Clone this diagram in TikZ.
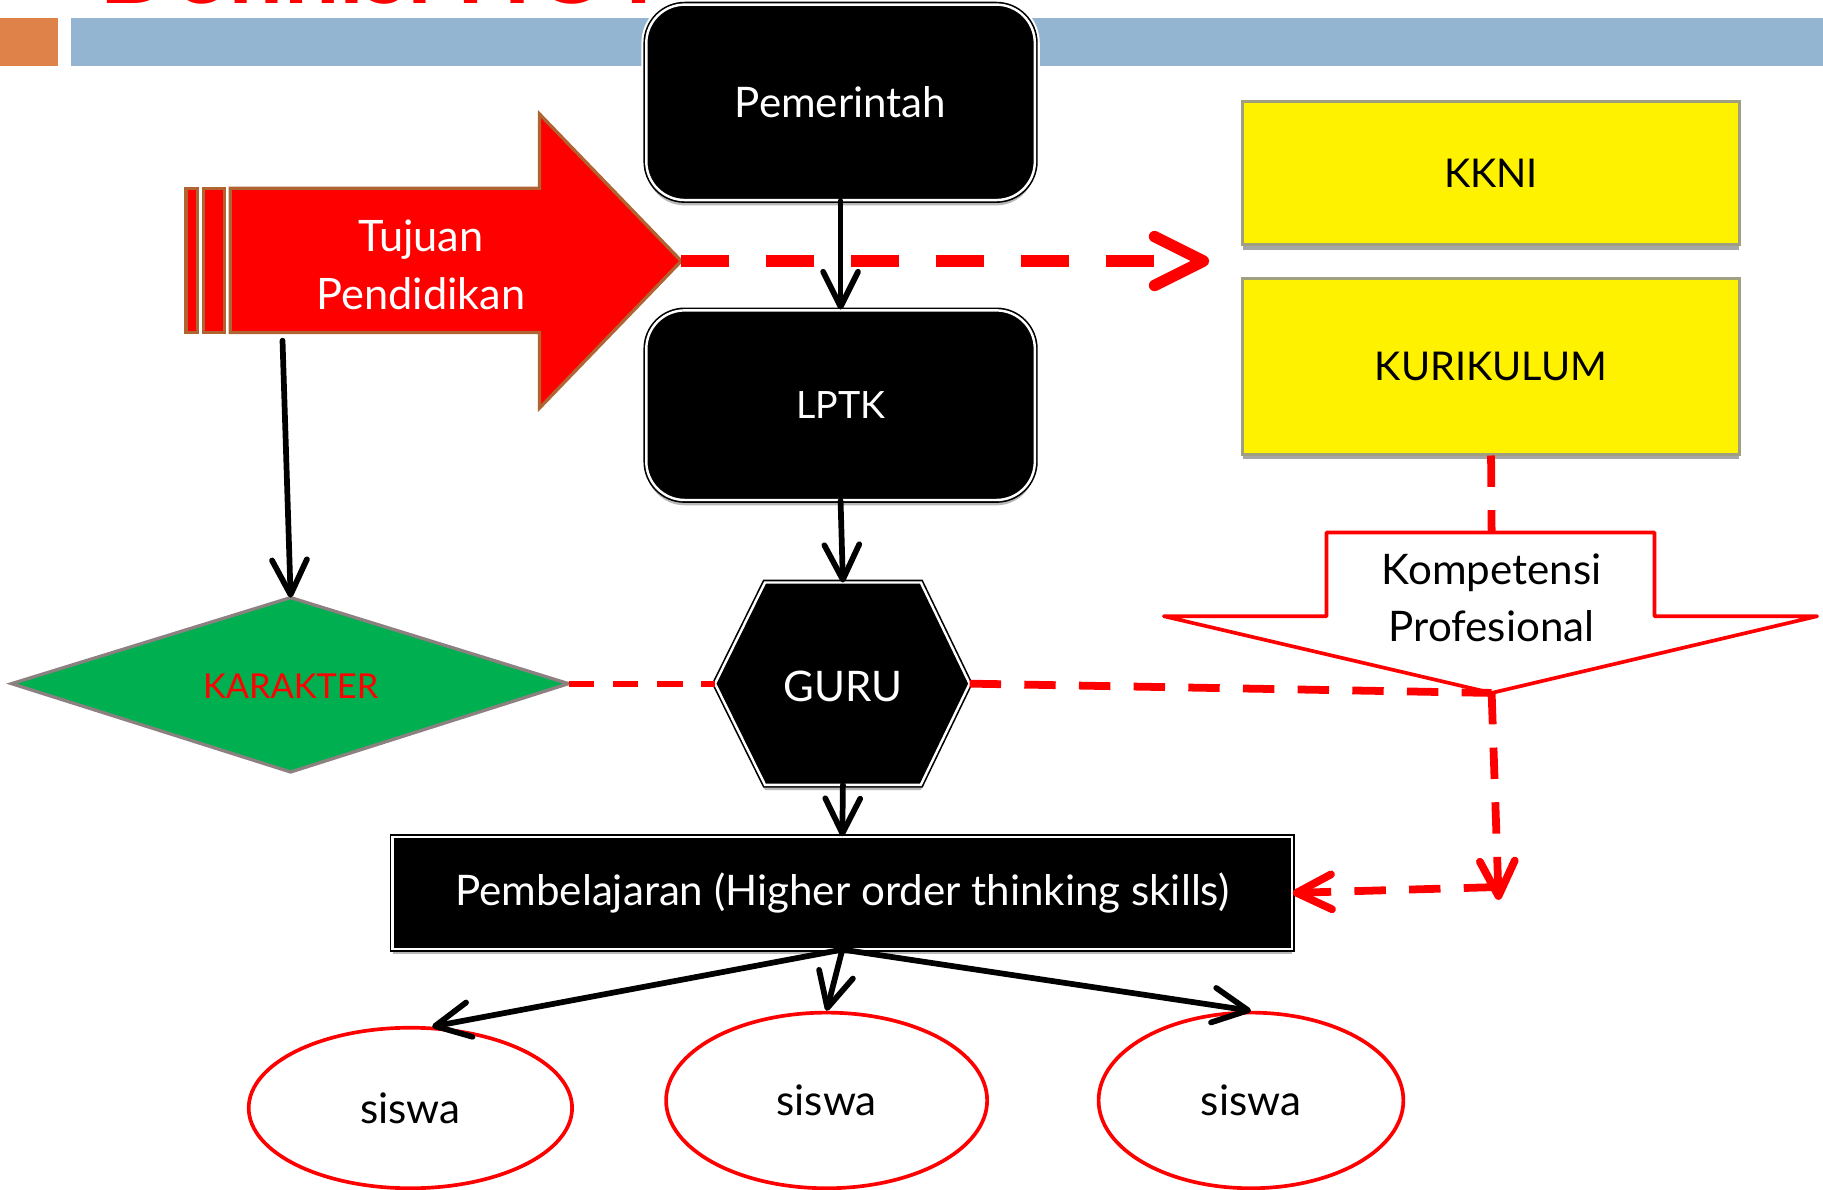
\documentclass[tikz,border=0pt]{standalone}
\usepackage{fontspec}
\setmainfont{Lato}
\usetikzlibrary{arrows.meta,shadows,shapes.geometric}

\definecolor{barblue}{RGB}{148,181,210}
\definecolor{barorange}{RGB}{223,130,73}
\definecolor{rim}{RGB}{176,100,50}
\definecolor{leafgreen}{RGB}{0,176,80}
\definecolor{stone}{RGB}{140,128,128}
\definecolor{boxedge}{RGB}{160,160,128}

\begin{document}
\begin{tikzpicture}[x=0.01cm,y=-0.01cm,
  txt/.style={font=\fontsize{10.3}{14}\selectfont, align=center, inner sep=0pt},
  capsA/.style={font=\fontsize{9.7}{14}\selectfont},
  darkbox/.style={fill=black, draw=black, double=white, double distance=0.6pt,
    line width=0.4pt, preaction={draw=white, line width=2.4pt},
    drop shadow={shadow xshift=0pt, shadow yshift=-1.3pt, fill=black, opacity=0.28}},
  yellowbox/.style={rectangle, fill=yellow, draw=boxedge, line width=0.7pt,
    drop shadow={shadow xshift=0pt, shadow yshift=-1.3pt, fill=black, opacity=0.35}},
  redshape/.style={fill=red, draw=rim, line width=0.8pt},
  pupil/.style={ellipse, draw=red, line width=0.9pt, fill=white, inner sep=0pt},
  flow/.style={draw=black, line width=1.4pt, line cap=round,
    -{Straight Barb[length=3mm, width=3mm, line cap=round, line join=round]}},
  bigdash/.style={draw=red, line width=2.8pt, dash pattern=on 0.41cm off 0.32cm},
  reddash/.style={draw=red, line width=1.9pt, dash pattern=on 0.27cm off 0.2cm},
  thindash/.style={draw=red, line width=1.4pt, dash pattern=on 0.22cm off 0.16cm},
  redtip/.style={-{Straight Barb[length=3mm, width=3mm, line cap=round, line join=round]}}
]
\useasboundingbox (0,0) rectangle (1568,1023);

% header bars
\fill[barorange] (0,15.5) rectangle (50,56.5);
\fill[barblue] (61,15.5) rectangle (1568,56.5);

% title, cut off at the top edge
\begin{scope}
  \clip (0,0) rectangle (1568,3.2);
  \node[anchor=base west, text=red, inner sep=0pt,
    font=\fontsize{24}{24}\selectfont\bfseries] (title) at (85,2.6) {Definisi HOTS};
\end{scope}

% black process boxes
\node[darkbox, rounded corners=0.33cm, minimum width=3.34cm, minimum height=1.68cm,
  txt, text=white] (pem) at (723,88) {Pemerintah};
\node[darkbox, rounded corners=0.33cm, minimum width=3.34cm, minimum height=1.63cm,
  txt, text=white, font=\fontsize{9.2}{14}\selectfont] (lptk) at (723,348.5) {LPTK};

% GURU hexagon
\coordinate (guruL) at (615,588);
\coordinate (guruTL) at (658,501);
\coordinate (guruTR) at (792,501);
\coordinate (guruR) at (834,588);
\coordinate (guruBR) at (792,675);
\coordinate (guruBL) at (658,675);
\coordinate (guruT) at (725,501);
\coordinate (guruB) at (725,675);
\path[darkbox] (guruL) -- (guruTL) -- (guruTR) -- (guruR) -- (guruBR) -- (guruBL) -- cycle;
\node[txt, text=white] (guru) at (725,590) {GURU};

% KARAKTER diamond
\coordinate (karL) at (10,588);
\coordinate (karT) at (250,514);
\coordinate (karR) at (489,588);
\coordinate (karB) at (250,664);
\path[fill=leafgreen, draw=stone, line width=0.8pt] (karL) -- (karT) -- (karR) -- (karB) -- cycle;
\node[txt, text=red, font=\fontsize{8.4}{14}\selectfont] (kar) at (250,590) {KARAKTER};

% Tujuan Pendidikan block arrow
\coordinate (tujTip) at (586,224.5);
\coordinate (tujFoot) at (243,293);
\path[redshape] (160,162) rectangle (170,286);
\path[redshape] (175,162) rectangle (193,286);
\path[redshape] (198,162) -- (464,162) -- (464,98) -- (tujTip) -- (464,351) -- (464,286) -- (198,286) -- cycle;
\node[txt, text=white, font=\fontsize{10.6}{14.2}\selectfont] (tuj) at (362,228) {Tujuan\\Pendidikan};

% yellow boxes
\node[yellowbox, minimum width=4.27cm, minimum height=1.23cm, txt, capsA] (kkni) at (1282.5,149) {KKNI};
\node[yellowbox, minimum width=4.27cm, minimum height=1.51cm, txt, capsA] (kur) at (1282.5,315) {KURIKULUM};

% Kompetensi Profesional down arrow
\coordinate (kompTop) at (1283,458);
\coordinate (kompTip) at (1283,596);
\path[draw=red, fill=white, line width=0.9pt, line join=round]
  (1141,458) -- (1423,458) -- (1423,530) -- (1563,530) -- (kompTip) -- (1001,530) -- (1141,530) -- cycle;
\node[txt] (komp) at (1283,514) {Kompetensi\\Profesional};

% learning box
\node[darkbox, minimum width=7.73cm, minimum height=0.96cm, txt, text=white]
  (pbl) at (724.5,768) {Pembelajaran (Higher order thinking skills)};

% pupils
\node[pupil, minimum width=2.78cm, minimum height=1.38cm, txt] (s1) at (353,953) {siswa};
\node[pupil, minimum width=2.76cm, minimum height=1.51cm, txt] (s2) at (711,946.5) {siswa};
\node[pupil, minimum width=2.62cm, minimum height=1.51cm, txt] (s3) at (1076,946.5) {siswa};

% black connectors
\draw[flow] (pem.south) -- (lptk.north);
\draw[flow] (lptk.south) -- (guruT);
\draw[flow] (guruB) -- (pbl.north);
\draw[flow] (tujFoot) -- (karT);
\draw[flow] (pbl.south) -- (s1.75);
\draw[flow] (pbl.south) -- (s2.north);
\draw[flow] (pbl.south) -- (s3.north);

% red dashed connectors
\coordinate (kkTip) at (1040,224.5);
\coordinate (downTip) at (1289,774);
\coordinate (kpJoin) at (1286,763);
\draw[bigdash, -{Straight Barb[length=4.2mm, width=4.2mm, line cap=round, line join=round]}] (tujTip) -- (kkTip);
\draw[reddash] (kur.south) -- (kompTop);
\draw[thindash] (karR) -- (guruL);
\draw[reddash] (guruR) -- (kompTip);
\draw[reddash, redtip] (kompTip) -- (downTip);
\draw[reddash, redtip] (kpJoin) -- (pbl.east);
\end{tikzpicture}
\end{document}
